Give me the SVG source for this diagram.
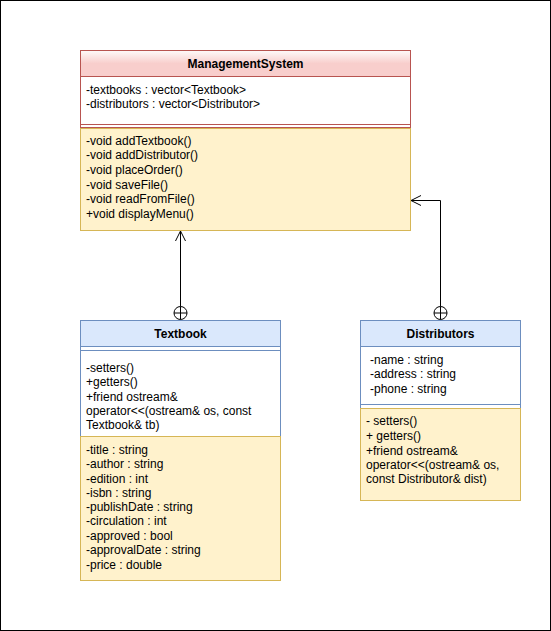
<svg xmlns="http://www.w3.org/2000/svg" width="551" height="631" viewBox="0 0 551 631">
<defs>
<linearGradient id="pinkGrad" x1="0" y1="0" x2="0" y2="1">
<stop offset="0" stop-color="#fefafa"/>
<stop offset="0.5" stop-color="#f8cecc"/>
<stop offset="1" stop-color="#f8cecc"/>
</linearGradient>
<marker id="openArrow" viewBox="0 0 12 12" refX="11" refY="6" markerWidth="12" markerHeight="12" markerUnits="userSpaceOnUse" orient="auto">
<path d="M1,1 L11,6 L1,11" fill="none" stroke="#000" stroke-width="1"/>
</marker>
</defs>
<style>
text { font-family: "Liberation Sans", Arial, Helvetica, sans-serif; font-size: 12px; fill: #000; }
.title { font-weight: bold; text-anchor: middle; }
.red { fill: #ffffff; stroke: #b85450; stroke-width: 1; }
.blue { fill: #ffffff; stroke: #6c8ebf; stroke-width: 1; }
.blueHead { fill: #dae8fc; stroke: #6c8ebf; stroke-width: 1; }
.yellow { fill: #fff2cc; stroke: #d6b656; stroke-width: 1; }
.conn { fill: none; stroke: #000; stroke-width: 1; }
</style>
<rect x="0.5" y="0.5" width="550" height="630" fill="#ffffff" stroke="#000" stroke-width="1"/>

<g id="ManagementSystem">
<rect class="red" x="80.5" y="50.5" width="330" height="77"/>
<rect x="80.5" y="50.5" width="330" height="26" fill="url(#pinkGrad)" stroke="#b85450"/>
<line x1="80.5" y1="124.5" x2="410.5" y2="124.5" stroke="#b85450"/>
<rect class="yellow" x="80.5" y="128.5" width="330" height="102"/>
<text class="title" x="245.5" y="67.5">ManagementSystem</text>
<text x="86" y="94">-textbooks : vector&lt;Textbook&gt;</text>
<text x="86" y="107.5">-distributors : vector&lt;Distributor&gt;</text>
<text x="86" y="144.7">-void addTextbook()</text>
<text x="86" y="159.4">-void addDistributor()</text>
<text x="86" y="174">-void placeOrder()</text>
<text x="86" y="188.7">-void saveFile()</text>
<text x="86" y="203.3">-void readFromFile()</text>
<text x="86" y="218">+void displayMenu()</text>
</g>

<g id="Textbook">
<rect class="blue" x="80.5" y="320.5" width="200" height="116"/>
<rect class="blueHead" x="80.5" y="320.5" width="200" height="26"/>
<line x1="80.5" y1="350.5" x2="280.5" y2="350.5" stroke="#6c8ebf"/>
<rect class="yellow" x="80.5" y="436.5" width="200" height="144"/>
<text class="title" x="180.5" y="337.5">Textbook</text>
<text x="86" y="372.3">-setters()</text>
<text x="86" y="385.7">+getters()</text>
<text x="86" y="400.7">+friend ostream&amp;</text>
<text x="86" y="414.7">operator&lt;&lt;(ostream&amp; os, const</text>
<text x="86" y="429">Textbook&amp; tb)</text>
<text x="86" y="454">-title : string</text>
<text x="86" y="468">-author : string</text>
<text x="86" y="482.7">-edition : int</text>
<text x="86" y="496.7">-isbn : string</text>
<text x="86" y="511.3">-publishDate : string</text>
<text x="86" y="525.3">-circulation : int</text>
<text x="86" y="540">-approved : bool</text>
<text x="86" y="554">-approvalDate : string</text>
<text x="86" y="568.7">-price : double</text>
</g>

<g id="Distributors">
<rect class="blue" x="360.5" y="320.5" width="160" height="88"/>
<rect class="blueHead" x="360.5" y="320.5" width="160" height="26"/>
<line x1="360.5" y1="404.5" x2="520.5" y2="404.5" stroke="#6c8ebf"/>
<rect class="yellow" x="360.5" y="408.5" width="160" height="92"/>
<text class="title" x="440.5" y="338">Distributors</text>
<text x="370" y="364">-name : string</text>
<text x="370" y="378">-address : string</text>
<text x="370" y="392.7">-phone : string</text>
<text x="366" y="424.7">- setters()</text>
<text x="366" y="440">+ getters()</text>
<text x="366" y="454.7">+friend ostream&amp;</text>
<text x="366" y="469.3">operator&lt;&lt;(ostream&amp; os,</text>
<text x="366" y="483.3">const Distributor&amp; dist)</text>
</g>

<g id="connectors">
<g id="edge-textbook">
<path class="conn" d="M180.5,306.5 L180.5,231" marker-end="url(#openArrow)"/>
<circle class="conn" cx="180.5" cy="313" r="6.5"/>
<line class="conn" x1="180.5" y1="306.5" x2="180.5" y2="319.5"/>
<line class="conn" x1="174" y1="313" x2="187" y2="313"/>
</g>
<g id="edge-distributors">
<path class="conn" d="M440.5,306.5 L440.5,200.5 L411,200.5" marker-end="url(#openArrow)"/>
<circle class="conn" cx="440.5" cy="313" r="6.5"/>
<line class="conn" x1="440.5" y1="306.5" x2="440.5" y2="319.5"/>
<line class="conn" x1="434" y1="313" x2="447" y2="313"/>
</g>
</g>
</svg>
